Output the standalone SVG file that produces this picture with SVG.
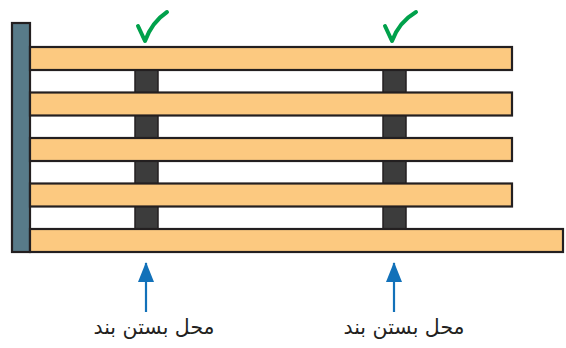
<svg xmlns="http://www.w3.org/2000/svg" width="566" height="348" viewBox="0 0 566 348">
<defs>
<style>
.board{fill:#FCC980;stroke:#231F20;stroke-width:2.2}
.upright{fill:#3C3C3C;stroke:#231F20;stroke-width:1.5}
.check{fill:none;stroke:#00A14B;stroke-width:4;stroke-linecap:round;stroke-linejoin:round}
.arrow{stroke:#1271B9;stroke-width:2.2}
.label{font-family:"DejaVu Sans","Noto Sans",sans-serif;font-size:20.5px;fill:#231F20}
</style>
<marker id="ah" markerWidth="20" markerHeight="16" refX="19" refY="8" orient="auto" markerUnits="userSpaceOnUse" viewBox="0 0 20 16">
<path d="M0,0 L20,8 L0,16 Z" fill="#1271B9"/>
</marker>
</defs>
<rect width="566" height="348" fill="#fff"/>
<g id="uprights">
<rect class="upright" x="135" y="60" width="23" height="180"/>
<rect class="upright" x="383" y="60" width="23" height="180"/>
</g>
<g id="post">
<rect x="12" y="23" width="18" height="229" fill="#587B89" stroke="#231F20" stroke-width="2.2"/>
</g>
<g id="boards">
<rect class="board" x="30" y="47" width="482" height="23"/>
<rect class="board" x="30" y="92.5" width="482" height="23"/>
<rect class="board" x="30" y="138" width="482" height="23"/>
<rect class="board" x="30" y="183.5" width="482" height="23"/>
<rect class="board" x="30" y="229" width="533" height="23"/>
</g>
<g id="checks">
<path class="check" d="M138,26 L145,41 Q152,22 167,12"/>
<path class="check" d="M385,26 L392,41 Q399,22 416,12"/>
</g>
<g id="connectors">
<line class="arrow" x1="146" y1="312" x2="146" y2="263" marker-end="url(#ah)"/>
<line class="arrow" x1="394" y1="312" x2="394" y2="263" marker-end="url(#ah)"/>
</g>
<g id="labels">
<text class="label" x="154" y="334" text-anchor="middle" direction="rtl">محل بستن بند</text>
<text class="label" x="404" y="334" text-anchor="middle" direction="rtl">محل بستن بند</text>
</g>
</svg>
